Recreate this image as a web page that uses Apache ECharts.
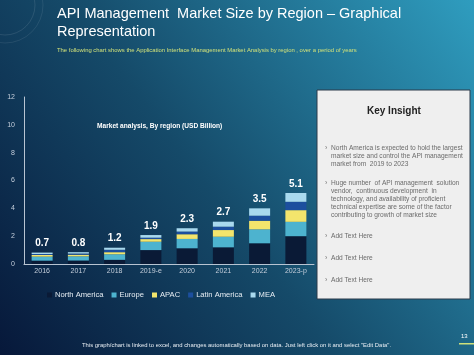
<!DOCTYPE html>
<html>
<head>
<meta charset="utf-8">
<script src="https://cdn.jsdelivr.net/npm/echarts@6/dist/echarts.min.js"></script>
<style>html,body{margin:0;padding:0;}#c{width:474px;height:355px;}</style>
</head>
<body>
<div id="c"></div>
<script>
var categories = ['2016','2017','2018','2019-e','2020','2021','2022','2023-p'];
var northAmerica = [0.24, 0.25, 0.30, 1.00, 1.13, 1.20, 1.49, 2.00];
var europe       = [0.29, 0.30, 0.40, 0.60, 0.67, 0.76, 1.00, 1.03];
var apac         = [0.12, 0.12, 0.15, 0.19, 0.34, 0.48, 0.62, 0.84];
var latinAmerica = [0.07, 0.08, 0.17, 0.10, 0.19, 0.24, 0.36, 0.60];
var mea          = [0.10, 0.10, 0.15, 0.19, 0.24, 0.36, 0.53, 0.63];
var totals       = ['0.7','0.8','1.2','1.9','2.3','2.7','3.5','5.1'];
var yTicks = [0, 2, 4, 6, 8, 10, 12];

var FONT = '"Liberation Sans", Arial, sans-serif';
var chart = echarts.init(document.getElementById('c'));

function bar(name, data, color, withLabel) {
  var s = {
    name: name, type: 'bar', stack: 'total', data: data, barWidth: 21,
    itemStyle: { color: color },
    emphasis: { disabled: true }
  };
  if (withLabel) {
    s.label = {
      show: true, position: 'top', distance: 4,
      color: '#ffffff', fontWeight: 'bold', fontSize: 10, fontFamily: FONT,
      formatter: function (p) { return totals[p.dataIndex]; }
    };
  }
  return s;
}

var bullet = function (x, y, lines) {
  var els = [{ type: 'text', left: x - 6, top: y, style: { text: '›', fill: '#777', font: '7px ' + FONT } }];
  lines.forEach(function (l, i) {
    els.push({ type: 'text', left: x, top: y + i * 8, style: { text: l, fill: '#6b6b6b', font: '6.6px ' + FONT } });
  });
  return els;
};

var graphics = [
  { type: 'circle', shape: { cx: 5, cy: 5, r: 30 }, style: { fill: 'none', stroke: 'rgba(255,255,255,0.15)', lineWidth: 0.7 } },
  { type: 'circle', shape: { cx: 5, cy: 5, r: 38 }, style: { fill: 'none', stroke: 'rgba(255,255,255,0.12)', lineWidth: 0.7 } },
  { type: 'text', left: 57, top: 6, style: { text: 'API Management  Market Size by Region – Graphical', fill: '#ffffff', font: '14.5px ' + FONT } },
  { type: 'text', left: 57, top: 24, style: { text: 'Representation', fill: '#ffffff', font: '14.5px ' + FONT } },
  { type: 'text', left: 57, top: 47, style: { text: 'The following chart shows the Application Interface Management Market Analysis by region , over a period of years', fill: '#cfe07a', font: '5.9px ' + FONT } },
  { type: 'text', left: 97, top: 123, style: { text: 'Market analysis, By region (USD Billion)', fill: '#ffffff', font: 'bold 6.6px ' + FONT } },
  { type: 'rect', shape: { x: 317, y: 90, width: 153, height: 209 }, style: { fill: '#efefef', stroke: '#2a3a4a', lineWidth: 1 } },
  { type: 'text', left: 367, top: 106, style: { text: 'Key Insight', fill: '#222222', font: 'bold 10px ' + FONT } },
  { type: 'text', left: 82, top: 342, style: { text: 'This graph/chart is linked to excel, and changes automatically based on data. Just left click on it and select "Edit Data".', fill: '#e8eef4', font: '5.9px ' + FONT } },
  { type: 'text', left: 461, top: 333, style: { text: '13', fill: '#ffffff', font: '6px ' + FONT } },
  { type: 'rect', shape: { x: 459, y: 343, width: 15, height: 1.5 }, style: { fill: '#cfe07a' } }
];
graphics = graphics.concat(
  bullet(331, 145, ['North America is expected to hold the largest', 'market size and control the API management', 'market from  2019 to 2023']),
  bullet(331, 180, ['Huge number  of API management  solution', 'vendor,  continuous development  in', 'technology, and availability of proficient', 'technical expertise are some of the factor', 'contributing to growth of market size']),
  bullet(331, 233, ['Add Text Here']),
  bullet(331, 255, ['Add Text Here']),
  bullet(331, 277, ['Add Text Here'])
);

chart.setOption({
  animation: false,
  backgroundColor: {
    type: 'linear', x: 0, y: 1, x2: 1, y2: 0,
    colorStops: [
      { offset: 0, color: '#07183a' },
      { offset: 0.45, color: '#154a69' },
      { offset: 1, color: '#2f9dbf' }
    ]
  },
  textStyle: { fontFamily: FONT },
  grid: { left: 24, right: 160, top: 97, bottom: 91, containLabel: false },
  legend: {
    left: 42, top: 286, itemWidth: 5, itemHeight: 5, itemGap: 8,
    icon: 'rect',
    textStyle: { color: '#e6edf3', fontSize: 7.6, fontFamily: FONT, padding: [0, 0, 0, -2] },
    data: ['North America', 'Europe', 'APAC', 'Latin America', 'MEA']
  },
  xAxis: {
    type: 'category', data: categories,
    axisLine: { lineStyle: { color: '#b8c4d2', width: 1 } },
    axisTick: { show: false },
    axisLabel: { color: '#c4cedb', fontSize: 7, margin: 4 }
  },
  yAxis: {
    type: 'value', min: 0, max: 12, interval: 2,
    splitLine: { show: false },
    axisLine: { show: true, lineStyle: { color: '#b8c4d2', width: 1 } },
    axisTick: { show: false },
    axisLabel: { color: '#c4cedb', fontSize: 7, margin: 9,
      formatter: function (v) { return yTicks.indexOf(v) >= 0 ? String(v) : ''; } }
  },
  series: [
    bar('North America', northAmerica, '#0a1a36', false),
    bar('Europe', europe, '#4db3cf', false),
    bar('APAC', apac, '#f3e56c', false),
    bar('Latin America', latinAmerica, '#1c4f9e', false),
    bar('MEA', mea, '#a9d9ee', true)
  ],
  graphic: graphics
});
</script>
</body>
</html>
